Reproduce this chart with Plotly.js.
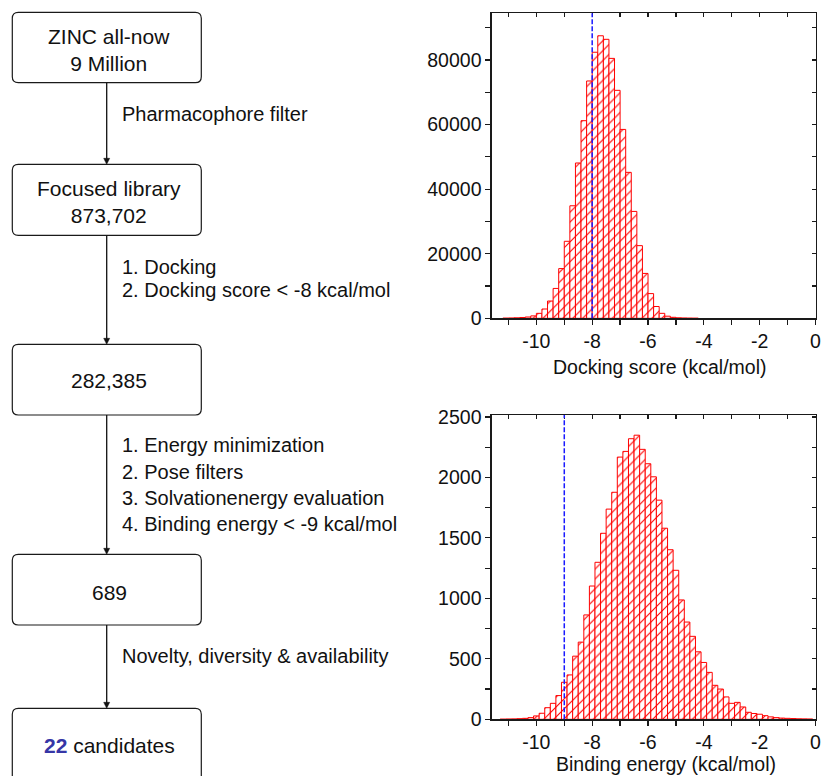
<!DOCTYPE html>
<html><head><meta charset="utf-8">
<script src="https://cdn.plot.ly/plotly-3.0.1.min.js"></script>
<style>html,body{margin:0;padding:0;background:#fff}</style>
</head><body>
<div id="chart" style="width:822px;height:776px"></div>
<script>
// ---------- data ----------
const dockCenters = [-11.1,-10.9,-10.7,-10.5,-10.3,-10.1,-9.9,-9.7,-9.5,-9.3,-9.1,-8.9,-8.7,-8.5,-8.3,-8.1,-7.9,-7.7,-7.5,-7.3,-7.1,-6.9,-6.7,-6.5,-6.3,-6.1,-5.9,-5.7,-5.5,-5.3,-5.1,-4.9,-4.7,-4.5,-4.3];
const dockCounts  = [40,80,150,250,400,750,1540,2880,5350,9250,15400,23850,34850,48100,61200,73500,82400,87500,86400,80500,70600,58500,45200,33100,22500,13900,7650,3650,1540,650,310,150,80,40,20];
const bindCenters = [-11.2,-11.0,-10.8,-10.6,-10.4,-10.2,-10.0,-9.8,-9.6,-9.4,-9.2,-9.0,-8.8,-8.6,-8.4,-8.2,-8.0,-7.8,-7.6,-7.4,-7.2,-7.0,-6.8,-6.6,-6.4,-6.2,-6.0,-5.8,-5.6,-5.4,-5.2,-5.0,-4.8,-4.6,-4.4,-4.2,-4.0,-3.8,-3.6,-3.4,-3.2,-3.0,-2.8,-2.6,-2.4,-2.2,-2.0,-1.8,-1.6,-1.4,-1.2,-1.0,-0.8,-0.6,-0.4,-0.2];
const bindCounts  = [1,2,3,5,8,14,28,50,96,132,196,306,367,522,638,863,1102,1298,1538,1738,1877,2168,2215,2320,2349,2232,2113,2005,1812,1580,1402,1232,987,804,686,558,470,388,281,250,185,132,140,102,58,48,42,30,20,14,10,8,6,4,3,2];
const binWidth = 0.2;
const dockCutoff = -8;
const bindCutoff = -9;
const xTickVals = [-10,-8,-6,-4,-2,0];
const xTickText = ['-10','-8','-6','-4','-2','0'];
const dockTitle = 'Docking score (kcal/mol)';
const bindTitle = 'Binding energy (kcal/mol)';
const finalCount = 22;
const boxLabels = ['ZINC all-now<br>9 Million', 'Focused library<br>873,702', '282,385', '689',
  '<span style="color:#3636a6"><b>' + finalCount + '</b></span> candidates'];
const stepLabels = [
  ['Pharmacophore filter'],
  ['1. Docking', '2. Docking score &lt; -8 kcal/mol'],
  ['1. Energy minimization', '2. Pose filters', '3. Solvationenergy evaluation', '4. Binding energy &lt; -9 kcal/mol'],
  ['Novelty, diversity &amp; availability']
];

// ---------- layout helpers ----------
const W = 822, H = 776;
const px = x => x / W;
const py = y => 1 - y / H;
const FONT = 'Liberation Sans, Arial, Helvetica, sans-serif';
const AX = 19.5;

const plotX = [491.7, 815.5];
const topY = [13.3, 318.3];
const botY = [415, 719.3];

const boxX = [12.3, 201.3];
const boxYs = [[12.3, 82.7], [164.3, 235.3], [344.3, 415], [554.3, 625], [708.3, 790]];
const boxTextY = [49.5, 202, 380, 592.3, 745.7];
const stepLineY = [[114.3], [266.7, 290], [445, 472.3, 498.3, 524.3], [656]];
const arrowX = 106.7;

function roundRect(x0, y0, x1, y1, r) {
  const P = (x, y) => px(x) + ',' + py(y);
  return 'M' + P(x0 + r, y0) + ' L' + P(x1 - r, y0) + ' Q' + P(x1, y0) + ' ' + P(x1, y0 + r) +
    ' L' + P(x1, y1 - r) + ' Q' + P(x1, y1) + ' ' + P(x1 - r, y1) +
    ' L' + P(x0 + r, y1) + ' Q' + P(x0, y1) + ' ' + P(x0, y1 - r) +
    ' L' + P(x0, y0 + r) + ' Q' + P(x0, y0) + ' ' + P(x0 + r, y0) + ' Z';
}

const shapes = [];
const annotations = [];
boxYs.forEach((b, i) => {
  shapes.push({type: 'path', xref: 'paper', yref: 'paper', path: roundRect(boxX[0], b[0], boxX[1], b[1], 6),
    line: {color: '#1a1a1a', width: 1.2}, fillcolor: 'rgba(0,0,0,0)'});
  annotations.push({xref: 'paper', yref: 'paper', x: px(109), y: py(boxTextY[i]), xanchor: 'center', yanchor: 'middle',
    text: boxLabels[i], showarrow: false, font: {family: FONT, size: 21, color: '#111'}});
});
for (let i = 0; i < boxYs.length - 1; i++) {
  const y0 = boxYs[i][1], y1 = boxYs[i + 1][0];
  shapes.push({type: 'line', xref: 'paper', yref: 'paper', x0: px(arrowX), x1: px(arrowX), y0: py(y0), y1: py(y1 - 4),
    line: {color: '#111', width: 1.3}});
  shapes.push({type: 'path', xref: 'paper', yref: 'paper',
    path: 'M' + px(arrowX - 3) + ',' + py(y1 - 6) + ' L' + px(arrowX + 3) + ',' + py(y1 - 6) + ' L' + px(arrowX) + ',' + py(y1) + ' Z',
    line: {color: '#111', width: 0.5}, fillcolor: '#111'});
  stepLabels[i].forEach((t, j) => {
    annotations.push({xref: 'paper', yref: 'paper', x: px(120), y: py(stepLineY[i][j]), xanchor: 'left', yanchor: 'middle',
      text: t, showarrow: false, font: {family: FONT, size: 20, color: '#111'}});
  });
}

// cutoff lines
shapes.push({type: 'line', xref: 'x', yref: 'y domain', x0: dockCutoff, x1: dockCutoff, y0: 0, y1: 1,
  line: {color: '#1a1aff', width: 1.5, dash: '5px,2px'}, layer: 'above'});
shapes.push({type: 'line', xref: 'x2', yref: 'y2 domain', x0: bindCutoff, x1: bindCutoff, y0: 0, y1: 1,
  line: {color: '#1a1aff', width: 1.5, dash: '5px,2px'}, layer: 'above'});

// axis titles
annotations.push({xref: 'paper', yref: 'paper', x: px(659), y: py(366.7), xanchor: 'center', yanchor: 'middle',
  text: dockTitle, showarrow: false, font: {family: FONT, size: AX, color: '#111'}});
annotations.push({xref: 'paper', yref: 'paper', x: px(666), y: py(764), xanchor: 'center', yanchor: 'middle',
  text: bindTitle, showarrow: false, font: {family: FONT, size: AX, color: '#111'}});

const barMarker = {
  color: 'red',
  line: {color: 'red', width: 1},
  pattern: {shape: '/', fgcolor: 'red', bgcolor: 'white', size: 7, solidity: 0.16, fillmode: 'replace'}
};

const traces = [
  {type: 'bar', x: dockCenters, y: dockCounts, width: binWidth, xaxis: 'x', yaxis: 'y', marker: barMarker, hoverinfo: 'x+y'},
  {type: 'bar', x: bindCenters, y: bindCounts, width: binWidth, xaxis: 'x2', yaxis: 'y2', marker: barMarker, hoverinfo: 'x+y'},
  {type: 'scatter', x: [], y: [], xaxis: 'x3', yaxis: 'y', hoverinfo: 'skip'},
  {type: 'scatter', x: [], y: [], xaxis: 'x', yaxis: 'y3', hoverinfo: 'skip'},
  {type: 'scatter', x: [], y: [], xaxis: 'x4', yaxis: 'y2', hoverinfo: 'skip'},
  {type: 'scatter', x: [], y: [], xaxis: 'x2', yaxis: 'y4', hoverinfo: 'skip'}
];

const xRange = [-11.6, 0];
const lineCol = '#1a1a1a';
function baseX(anchor) {
  return {domain: [px(plotX[0]), px(plotX[1])], anchor: anchor, range: xRange, fixedrange: true,
    tickmode: 'array', tickvals: xTickVals, ticktext: xTickText, ticks: 'outside', ticklen: 5, tickwidth: 1.2, tickcolor: lineCol,
    minor: {tickmode: 'linear', tick0: 0, dtick: 1, ticks: 'outside', ticklen: 5, tickwidth: 1.2, tickcolor: lineCol},
    showline: true, linecolor: lineCol, linewidth: 1.3, mirror: true, showgrid: false, zeroline: false,
    tickfont: {family: FONT, size: AX, color: '#111'}};
}
function baseY(anchor, dom, range, dtick, mdtick) {
  return {domain: dom, anchor: anchor, range: range, fixedrange: true, tickmode: 'linear', tick0: 0, dtick: dtick, tickformat: 'd',
    ticks: 'outside', ticklen: 5, tickwidth: 1.2, tickcolor: lineCol,
    minor: {tickmode: 'linear', tick0: 0, dtick: mdtick, ticks: 'outside', ticklen: 5, tickwidth: 1.2, tickcolor: lineCol},
    showline: true, linecolor: lineCol, linewidth: 1.3, mirror: true, showgrid: false, zeroline: false,
    tickfont: {family: FONT, size: AX, color: '#111'}};
}
function mirrorX(over, anchor) {
  return {overlaying: over, side: 'top', anchor: anchor, range: xRange, fixedrange: true, tickmode: 'linear', tick0: 0, dtick: 2,
    ticks: 'inside', ticklen: 4, tickwidth: 1.2, tickcolor: lineCol,
    minor: {tickmode: 'linear', tick0: 0, dtick: 1, ticks: 'inside', ticklen: 4, tickwidth: 1.2, tickcolor: lineCol},
    showticklabels: false, showline: false, showgrid: false, zeroline: false};
}
function mirrorY(over, anchor, range, dtick, mdtick) {
  return {overlaying: over, side: 'right', anchor: anchor, range: range, fixedrange: true, tickmode: 'linear', tick0: 0, dtick: dtick,
    ticks: 'inside', ticklen: 4, tickwidth: 1.2, tickcolor: lineCol,
    minor: {tickmode: 'linear', tick0: 0, dtick: mdtick, ticks: 'inside', ticklen: 4, tickwidth: 1.2, tickcolor: lineCol},
    showticklabels: false, showline: false, showgrid: false, zeroline: false};
}

const topRange = [0, 94460];
const botRange = [0, 2516];
const layout = {
  width: W, height: H, margin: {l: 0, r: 0, t: 0, b: 0}, paper_bgcolor: 'white', plot_bgcolor: 'white',
  showlegend: false, bargap: 0, font: {family: FONT, color: '#111'},
  xaxis: baseX('y'),
  yaxis: baseY('x', [py(topY[1]), py(topY[0])], topRange, 20000, 10000),
  xaxis2: baseX('y2'),
  yaxis2: baseY('x2', [py(botY[1]), py(botY[0])], botRange, 500, 250),
  xaxis3: mirrorX('x', 'y'),
  yaxis3: mirrorY('y', 'x', topRange, 20000, 10000),
  xaxis4: mirrorX('x2', 'y2'),
  yaxis4: mirrorY('y2', 'x2', botRange, 500, 250),
  shapes: shapes,
  annotations: annotations
};

Plotly.newPlot('chart', traces, layout, {displayModeBar: false, staticPlot: true});
</script>
</body></html>
